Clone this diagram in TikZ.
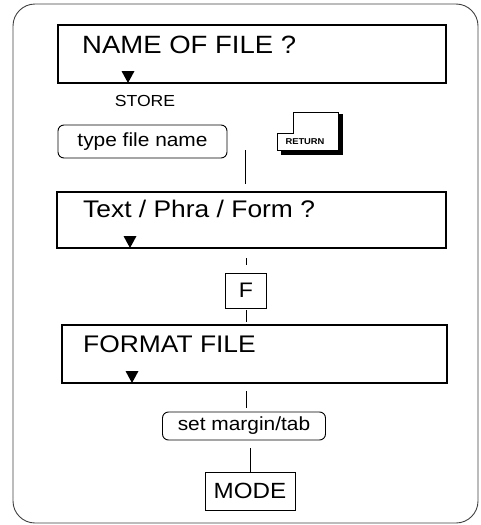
\documentclass[tikz,border=0pt]{standalone}
\usepackage{fontspec}
\setmainfont{Liberation Sans}[FakeStretch=1.1]
\newcommand{\myfs}[1]{\fontsize{#1}{#1}\selectfont}
\begin{document}
\begin{tikzpicture}[x=1pt,y=-1pt,
  bigbox/.style={draw, line width=2.2pt, inner sep=0pt},
  rbox/.style={draw, line width=0.9pt, rounded corners=6pt, inner sep=0pt},
  keybox/.style={draw, line width=0.9pt, inner sep=0pt},
  conn/.style={line width=0.7pt},
  frame/.style={draw=black!75, line width=0.9pt, rounded corners=22pt},
  lbl/.style={anchor=base west, inner sep=0pt},
  tri/.style={fill=black}]
\useasboundingbox (0,0) rectangle (480,525);
\draw[frame] (13,4) rectangle (478,523);

% box 1
\node[bigbox, minimum width=388pt, minimum height=58pt] (b1) at (252,54) {};
\node[lbl, font=\myfs{25}] (t1) at (82,53) {NAME OF FILE ?};
\fill[tri] (121.5,71) -- (134.5,71) -- (128,83) -- cycle;
\node[font=\myfs{16}, anchor=base] (store) at (145,106) {STORE};

% type file name and RETURN
\node[rbox, minimum width=169pt, minimum height=33pt, font=\myfs{19}] (tfn) at (142.5,141.5) {type file name};
\fill (281,150) rectangle (343,155);
\fill (338,114) rectangle (343,155);
\draw[fill=white, line width=0.9pt] (277,133) -- (293,133) -- (293,112) -- (338,112) -- (338,150) -- (277,150) -- cycle;
\node[font=\bfseries\myfs{8.5}, inner sep=0pt] (ret) at (305,142) {RETURN};

% box 2
\node[bigbox, minimum width=389pt, minimum height=56pt] (b2) at (251.5,220) {};
\node[lbl, font=\myfs{24}] (t2) at (83,217) {Text / Phra / Form ?};
\fill[tri] (123.5,236) -- (136.5,236) -- (130,248) -- cycle;

% F key
\node[keybox, minimum width=41pt, minimum height=35pt, font=\myfs{21}] (F) at (246,290.5) {F};

% box 3
\node[bigbox, minimum width=385pt, minimum height=58pt] (b3) at (254.5,354) {};
\node[lbl, font=\myfs{24}] (t3) at (83,352) {FORMAT FILE};
\fill[tri] (125.5,371) -- (138.5,371) -- (132,383) -- cycle;

% set margin/tab
\node[rbox, minimum width=163pt, minimum height=28pt, font=\myfs{19}] (smt) at (244,426) {set margin/tab};

% MODE
\node[keybox, minimum width=90pt, minimum height=38pt, font=\myfs{22}] (mode) at (250,491) {MODE};

% connectors
\coordinate (c1) at (245,150);
\draw[conn, shorten >=7pt] (c1) -- (c1 |- b2.north);
\draw[conn, shorten <=9pt, shorten >=8pt] (F.north |- b2.south) -- (F.north);
\draw[conn, shorten <=2pt, shorten >=2pt] (F.south) -- (F.south |- b3.north);
\draw[conn, shorten <=7pt, shorten >=4pt] (F.south |- b3.south) -- (F.south |- smt.north);
\draw[conn, shorten <=8pt] (mode.north |- smt.south) -- (mode.north);
\end{tikzpicture}
\end{document}
